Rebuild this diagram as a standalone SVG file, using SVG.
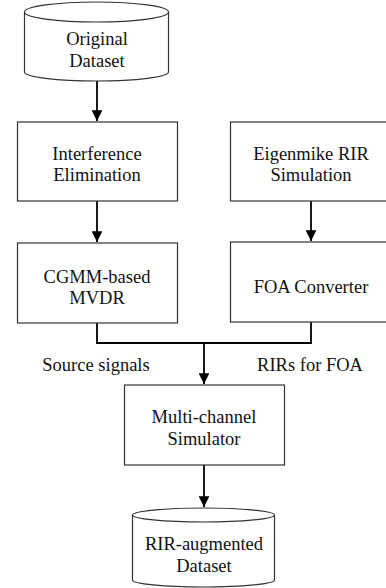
<svg xmlns="http://www.w3.org/2000/svg" width="386" height="588" viewBox="0 0 386 588">
  <style>
    .box { fill: #fff; stroke: #333; stroke-width: 1.2; }
    .lbl { font-family: 'Liberation Serif', 'DejaVu Serif', 'Times New Roman', serif; font-size: 18.5px; fill: #111; text-anchor: middle; }
    .wire { fill: none; stroke: #000; stroke-width: 1.8; }
  </style>
  <defs>
    <marker id="head" viewBox="0 0 10 10" refX="10" refY="5" markerWidth="6" markerHeight="6" markerUnits="strokeWidth" orient="auto">
      <path d="M0,0 L10,5 L0,10 Z" fill="#000"/>
    </marker>
  </defs>
  <rect width="386" height="588" fill="#fff"/>

  <!-- connectors -->
  <g id="connectors">
    <line class="wire" x1="97" y1="81" x2="97" y2="121" marker-end="url(#head)"/>
    <line class="wire" x1="97" y1="201" x2="97" y2="242" marker-end="url(#head)"/>
    <line class="wire" x1="311" y1="201" x2="311" y2="241" marker-end="url(#head)"/>
    <polyline class="wire" points="97,323 97,343 311,343 311,322"/>
    <line class="wire" x1="204" y1="343" x2="204" y2="384" marker-end="url(#head)"/>
    <line class="wire" x1="204" y1="465" x2="204" y2="507" marker-end="url(#head)"/>
    <text class="lbl" x="96" y="371" font-family="Liberation Serif, serif">Source signals</text>
    <text class="lbl" x="310" y="371" font-family="Liberation Serif, serif">RIRs for FOA</text>
  </g>

  <!-- source database -->
  <g id="original-dataset">
    <path class="box" d="M24.5,12 L24.5,72 A72,9 0 0 0 168.5,72 L168.5,12"/>
    <ellipse class="box" cx="96.5" cy="12" rx="72" ry="10"/>
    <text class="lbl" x="97" y="45">Original</text>
    <text class="lbl" x="97" y="67">Dataset</text>
  </g>

  <g id="interference-elimination">
    <rect class="box" x="17.5" y="122" width="160" height="79"/>
    <text class="lbl" x="97" y="160">Interference</text>
    <text class="lbl" x="97" y="181">Elimination</text>
  </g>

  <g id="eigenmike-rir-simulation">
    <rect class="box" x="230.5" y="122" width="161" height="79"/>
    <text class="lbl" x="311" y="160">Eigenmike RIR</text>
    <text class="lbl" x="311" y="181">Simulation</text>
  </g>

  <g id="cgmm-mvdr">
    <rect class="box" x="17.5" y="243" width="160" height="80"/>
    <text class="lbl" x="97" y="283">CGMM-based</text>
    <text class="lbl" x="97" y="304">MVDR</text>
  </g>

  <g id="foa-converter">
    <rect class="box" x="230.5" y="242" width="161" height="80"/>
    <text class="lbl" x="311" y="293">FOA Converter</text>
  </g>

  <g id="multichannel-simulator">
    <rect class="box" x="124.5" y="385" width="160" height="80"/>
    <text class="lbl" x="204" y="423">Multi-channel</text>
    <text class="lbl" x="204" y="445">Simulator</text>
  </g>

  <!-- output database -->
  <g id="rir-augmented-dataset">
    <path class="box" d="M132.5,515 L132.5,580 A71,7 0 0 0 274.5,580 L274.5,515"/>
    <ellipse class="box" cx="203.5" cy="515" rx="71" ry="7"/>
    <text class="lbl" x="204" y="550">RIR-augmented</text>
    <text class="lbl" x="204" y="572">Dataset</text>
  </g>
</svg>
